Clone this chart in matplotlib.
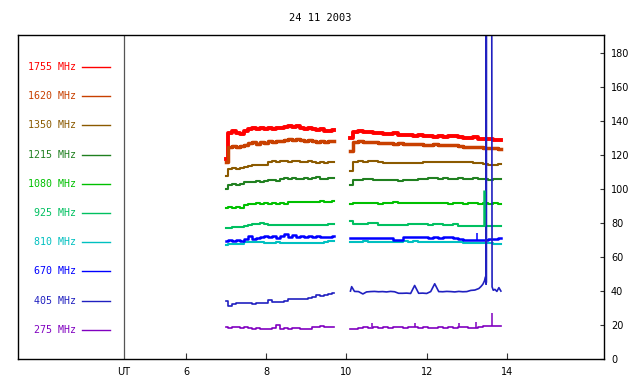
import numpy as np
import matplotlib
matplotlib.use('Agg')
import matplotlib.pyplot as plt
import matplotlib.transforms as mtransforms

# observation day and channels
title = '24 11 2003'
freqs = ['1755', '1620', '1350', '1215', '1080', '925', '810', '670', '405', '275']
colors = ['#ff0000', '#c84000', '#8b5a00', '#208020', '#00c000',
          '#00c060', '#00c0c0', '#0000ff', '#2020c0', '#8000c0']

# sampling grid of the two recording blocks (UT hours)
t1 = np.linspace(7.0, 9.7, 28)
t2 = np.linspace(10.1, 13.85, 31)

# first block (7.0 - 9.7 UT)
f1755_a = [118, 133, 134.5, 133, 132.5, 134, 135.5, 136.3, 135.3, 136.2, 135.5, 136.3, 135.4, 136.2, 135.8,
           136.6, 137, 136.4, 137.1, 136, 135.6, 136.2, 135.4, 135.1, 135.6, 134.5, 134.1, 134.6]
f1620_a = [116, 125, 125.6, 124.8, 125.5, 126, 127, 127.6, 126.9, 127.5, 127, 128.6, 128, 128.6, 128.4,
           129.1, 129.5, 128.9, 129.6, 129, 128.5, 129.1, 128.4, 128, 128.6, 128, 128.6, 128.4]
f1350_a = [107.5, 112, 112.5, 112, 112.5, 113, 113.5, 114, 114, 114.5, 114.5, 116, 116.5, 116, 116.5,
           116.5, 116, 116.5, 116.5, 116, 116, 116.5, 116, 115.5, 116, 115.5, 116, 116]
f1215_a = [100, 102.5, 103, 102.5, 103, 104, 104.5, 104.5, 105, 104.5, 105, 105.5, 105.5, 105, 106,
           106.5, 106, 106.5, 106, 106, 106.5, 106, 106.5, 107, 106, 106, 106.5, 106.5]
f1080_a = [89, 89.5, 89, 89.5, 89, 90.5, 91, 91.5, 91.7, 91.5, 91.7, 91.5, 92, 91.5, 91.7,
           91.5, 92.5, 92.6, 92.6, 92.3, 92.6, 92.6, 92.3, 92.6, 93, 92.3, 92.6, 92.8]
f925_a = [77, 77.3, 77.5, 77.5, 78, 78.5, 79, 79.3, 79.5, 79.9, 79.5, 78.9, 78.9, 78.9, 79,
          78.9, 79.2, 78.9, 79.2, 78.9, 78.9, 79, 78.9, 78.9, 78.9, 79, 79.5, 79.7]
f810_a = [67, 67.7, 67.5, 67.7, 68, 68.7, 69, 69.1, 69.1, 69.1, 68.6, 68.4, 68.5, 68.7, 68.5,
          68.5, 68.6, 68.5, 68.5, 68.6, 68.5, 68.5, 68.5, 68.3, 68.5, 68.9, 69.3, 69.5]
f670_a = [69.5, 70.2, 69.5, 70, 69.7, 70.5, 72.5, 70.8, 71.5, 72, 72.5, 71.8, 72.3, 71.5, 72.5,
          73.5, 72, 72.8, 71.8, 72.3, 71.7, 72.2, 71.8, 72.2, 71.7, 71.9, 71.6, 72.3]
f405_a = [34.3, 31.2, 32.5, 32.8, 32.8, 33, 33, 32.2, 33.2, 33.2, 33.2, 34.8, 33.8, 33.5, 33.8,
          34.2, 35.3, 35.5, 35.3, 35.3, 35.5, 35.8, 36.8, 37.7, 37.3, 37.7, 38.5, 39]
f275_a = [18.6, 18, 18.6, 19, 18.4, 18.6, 18.3, 17.9, 18.2, 17.9, 17.7, 17.9, 18, 20.2, 17.9,
          18.3, 17.8, 18.3, 18.4, 17.7, 17.7, 17.9, 18.6, 18.6, 19.3, 18.6, 18.6, 18.6]

# second block (10.1 - 13.85 UT)
f1755_b = [130, 133.5, 134.2, 133.4, 133.8, 133, 132.8, 132.5, 132.3, 132.8, 132.1, 132, 131.8, 131.4, 131.8, 131.2,
           131.3, 130.9, 131.4, 130.8, 131.5, 131.2, 130.5, 130.2, 130, 130.5, 129.5, 129.8, 129.5, 129.2, 128.8]
f1620_b = [122.3, 127.8, 128.1, 127.7, 127.5, 127.8, 127.2, 127, 127.3, 126.8, 127, 126.7, 126.6, 126.5, 126.7, 126.3,
           126.2, 126.4, 126, 126.2, 126, 125.8, 125.5, 125, 124.8, 124.6, 124.8, 124.3, 124.5, 124, 123.5]
f1350_b = [110.5, 116.2, 116.4, 116.2, 116.6, 116.4, 116, 115.6, 115.5, 115.7, 115.4, 115.5, 115.4, 115.6, 115.5, 116,
           116.2, 115.8, 116, 116.2, 115.8, 116, 116.3, 115.8, 116, 115.6, 115.5, 115, 114.5, 114.2, 114.6]
f1215_b = [102.7, 105.5, 105.6, 105.8, 106, 105.6, 105.5, 105.3, 105.2, 105.3, 105.1, 105.3, 105.4, 105.6, 105.8, 106.2,
           106.4, 106.3, 106.2, 106.4, 106, 106.2, 106.3, 105.8, 106.1, 106.4, 106, 105.8, 105.6, 105.8, 106]
f1080_b = [91.5, 91.8, 91.7, 92, 91.6, 91.7, 91.5, 91.7, 92, 92.5, 91.6, 91.7, 91.6, 91.8, 91.6, 91.9,
           91.7, 91.6, 92, 91.7, 91.5, 91.8, 91.7, 91.5, 91.8, 91.6, 91.5, 91.7, 91.5, 91.6, 91.3]
f925_b = [81, 79.5, 79.4, 79.6, 80.2, 80, 78.9, 78.8, 78.9, 78.9, 78.8, 79, 79.4, 79.5, 79.3, 79.5,
          79.2, 79.3, 79.4, 79.2, 79, 79.3, 78.6, 78.3, 78.4, 78.3, 78.2, 78.3, 78.4, 78.2, 78.5]
f810_b = [69, 69.1, 69, 69.2, 69, 69.1, 68.9, 69.1, 69, 68.8, 69, 69.2, 69.1, 69.2, 69, 69.1,
          69, 69.1, 68.9, 69, 69.1, 69, 68.8, 68.5, 68.4, 68.5, 68.4, 68.3, 68.4, 68, 67.8]
f670_b = [71, 71.3, 71, 71.4, 71.1, 71, 71.2, 71, 71.1, 70.1, 70.3, 71.8, 72, 71.7, 71.6, 71.9,
          71.5, 71.7, 71.5, 71.8, 71.6, 71.4, 70.5, 69.8, 69.8, 70, 70.2, 70.3, 70.6, 70.4, 71.5]
f275_b = [17.9, 17.6, 18.2, 18.6, 18.5, 18.6, 18.5, 18.6, 18.4, 18.6, 18.6, 18.3, 18.6, 18.7, 18.4, 18.6,
          18.5, 18.3, 18.6, 18.4, 18.6, 18.5, 18.7, 18.6, 18.3, 18.4, 18.8, 19.3, 19.4, 19.5, 19.4]

# 405 MHz second block has its own times (burst near 13.5 UT goes off scale)
t405_b = [10.1, 10.13, 10.2, 10.3, 10.41, 10.5, 10.6, 10.7, 10.8, 10.9, 11.0, 11.1, 11.2, 11.3, 11.4,
          11.5, 11.6, 11.7, 11.8, 11.9, 12.0, 12.1, 12.2, 12.3, 12.4, 12.5, 12.6, 12.7, 12.8, 12.9,
          13.0, 13.1, 13.2, 13.3, 13.35, 13.4, 13.44, 13.47, 13.48, 13.483, 13.486, 13.49, 13.62, 13.63,
          13.66, 13.7, 13.75, 13.8, 13.85]
f405_b = [40, 42.6, 39.8, 39.7, 38.3, 39.5, 39.7, 39.8, 39.6, 39.7, 39.5, 39.8, 39.6, 38.7, 38.7,
          38.8, 38.6, 43.3, 38.7, 38.8, 38.6, 39.7, 44.3, 39.7, 39.6, 39.8, 39.7, 39.5, 39.8, 39.6,
          39.7, 40.4, 40.6, 41.5, 42.6, 44, 46, 48.5, 44, 250, 45, 250, 250, 42.5,
          40.5, 41, 39.8, 42, 40]

# short single-sample spikes: time, base, peak, channel
spike_t = [13.43, 13.25, 10.63, 11.71, 12.81, 13.24, 13.64]
spike_lo = [78.3, 70.0, 18.6, 18.6, 18.6, 18.5, 19.4]
spike_hi = [99.5, 74.0, 21.2, 21.0, 21.2, 21.6, 26.9]
spike_ch = ['925', '670', '275', '275', '275', '275', '275']

ut_line = 4.455

block_a = [f1755_a, f1620_a, f1350_a, f1215_a, f1080_a, f925_a, f810_a, f670_a, f405_a, f275_a]
block_b = [f1755_b, f1620_b, f1350_b, f1215_b, f1080_b, f925_b, f810_b, f670_b, None, f275_b]
widths = [2.8, 2.5, 1.5, 1.5, 1.5, 1.5, 1.5, 1.8, 1.2, 1.2]

mono = ['DejaVu Sans Mono']
narrow = ['Liberation Sans Narrow', 'DejaVu Sans']

fig = plt.figure(figsize=(6.4, 3.84), dpi=100)
ax = fig.add_axes([18/640, 1-359/384, (604-18)/640, (359-35)/384])

for i, f in enumerate(freqs):
    ax.plot(t1, block_a[i], color=colors[i], lw=widths[i], drawstyle='steps-mid')
    if block_b[i] is not None:
        ax.plot(t2, block_b[i], color=colors[i], lw=widths[i], drawstyle='steps-mid')
    else:
        ax.plot(t405_b, f405_b, color=colors[i], lw=widths[i])

for t, lo, hi, ch in zip(spike_t, spike_lo, spike_hi, spike_ch):
    c = colors[freqs.index(ch)]
    ax.vlines(t, lo, hi, color=c, lw=1.8 if ch == '925' else 1.1)

# legend column on the left
for i, f in enumerate(freqs):
    yy = 172 - i * 17.2
    ax.text(3.25, yy, f + ' MHz', color=colors[i], ha='right', va='center',
            fontsize=7.2, family=mono)
    ax.plot([3.41, 4.1], [yy, yy], color=colors[i], lw=1.0)

ax.axvline(ut_line, color='#555555', lw=0.9)

ax.set_xlim(1.813, 16.42)
ax.set_ylim(0, 190.8)
ax.set_xticks([6, 8, 10, 12, 14])
ax.set_yticks(np.arange(0, 181, 20))
ax.yaxis.tick_right()
ax.tick_params(axis='x', direction='in', length=4, width=0.8, pad=6, labelsize=7, color='#333333')
ax.tick_params(axis='y', direction='in', length=3, width=0.8, pad=5, labelsize=7, color='#333333')
for lab in ax.get_xticklabels() + ax.get_yticklabels():
    lab.set_family(narrow)
for sp in ax.spines.values():
    sp.set_linewidth(1.0)

trans = mtransforms.blended_transform_factory(ax.transData, ax.transAxes)
ax.text(ut_line, -0.024, 'UT', transform=trans, ha='center', va='top', fontsize=7, family=narrow)

fig.text(0.5, 1 - 18/384, title, ha='center', va='center', fontsize=7.5, family=mono)

plt.savefig('out.png', dpi=100)
